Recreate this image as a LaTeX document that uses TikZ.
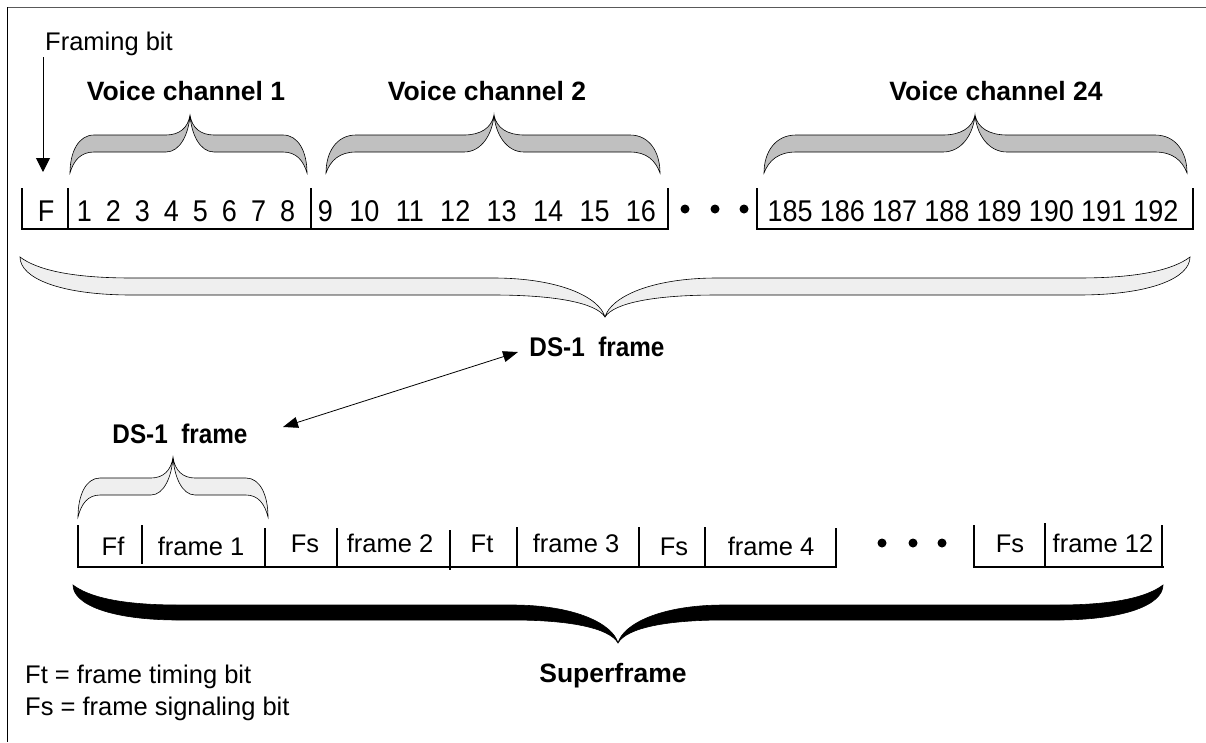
\documentclass[tikz,border=0pt]{standalone}
\usepackage{fontspec}
\setmainfont{Liberation Sans}
\newfontfamily\narrowfont[FakeStretch=0.9]{Liberation Sans}
\usetikzlibrary{arrows.meta}
% #1 style, #2 xl, #3 xr, #4 xm, #5 tip y, #6 band edge on tip side, #7 band edge on end side, #8 end y, #9 curve length
\newcommand\mybrace[9]{%
\path[#1] (#2,#8)
 .. controls (#2,{#6+0.45*(#8-#6)}) and ({#2+0.35*#9},#6) .. ({#2+#9},#6)
 -- ({#4-#9},#6)
 .. controls ({#4-0.45*#9},#6) and ({#4-0.08*#9},{#6+0.35*(#5-#6)}) .. (#4,#5)
 .. controls ({#4+0.08*#9},{#6+0.35*(#5-#6)}) and ({#4+0.45*#9},#6) .. ({#4+#9},#6)
 -- ({#3-#9},#6)
 .. controls ({#3-0.35*#9},#6) and (#3,{#6+0.45*(#8-#6)}) .. (#3,#8)
 .. controls ({#3-0.15*#9},{#7+0.4*(#8-#7)}) and ({#3-0.45*#9},#7) .. ({#3-#9},#7)
 -- ({#4+#9},#7)
 .. controls ({#4+0.4*#9},#7) and ({#4+0.05*#9},{#7+0.5*(#5-#7)}) .. (#4,#5)
 .. controls ({#4-0.05*#9},{#7+0.5*(#5-#7)}) and ({#4-0.4*#9},#7) .. ({#4-#9},#7)
 -- ({#2+#9},#7)
 .. controls ({#2+0.45*#9},#7) and ({#2+0.15*#9},{#7+0.4*(#8-#7)}) .. (#2,#8) -- cycle;}
\definecolor{vgray}{HTML}{C0C0C0}
\definecolor{lgray}{HTML}{EFEFEF}
\tikzset{
  txt/.style={font=\fontsize{25.5}{30}\selectfont, inner sep=0pt, anchor=base},
  btxt/.style={font=\fontsize{26.5}{30}\selectfont\bfseries, inner sep=0pt, anchor=base},
  dstxt/.style={font=\narrowfont\fontsize{27}{30}\selectfont\bfseries, inner sep=0pt, anchor=base},
  num/.style={inner sep=0pt, anchor=base},
  frm/.style={line width=1.4pt},
  dot/.style={circle, fill=black, inner sep=0pt, minimum size=9pt},
  vbrace/.style={fill=vgray, draw=black, line width=0.6pt},
  lbrace/.style={fill=lgray, draw=black, line width=0.6pt},
  kbrace/.style={fill=black, draw=black, line width=0.6pt}
}
\begin{document}
\begin{tikzpicture}[x=1pt,y=-1pt]
\useasboundingbox (0,0) rectangle (1206,742);
\fill[white] (0,0) rectangle (1206,742);
% border
\draw[gray!70!black, line width=1.2pt] (7,7.5) -- (1206,7.5);
\draw[black, line width=1.4pt] (7.5,7) -- (7.5,742);

% Framing bit
\node[txt] (fb) at (109,50) {Framing bit};
\coordinate (fbs) at (43,57);
\coordinate (fbt) at (43,172);
\draw[line width=1pt, -{Triangle[length=14pt,width=14pt]}] (fbs) -- (fbt);

% voice channel labels
\node[btxt] (vc1) at (186,100) {Voice channel 1};
\node[btxt] (vc2) at (487,100) {Voice channel 2};
\node[btxt] (vc24) at (996,100) {Voice channel 24};

% voice braces
\mybrace{vbrace}{70}{307}{190}{115}{135}{152}{173}{24}
\mybrace{vbrace}{326}{660}{494}{115}{135}{152}{173}{30}
\mybrace{vbrace}{764}{1187}{975}{115}{135}{152}{173}{32}

% row 1 frame
\draw[frm] (22,188) -- (22,229) -- (668,229) -- (668,188);
\draw[frm] (68,188) -- (68,229);
\draw[frm] (311,188) -- (311,229);
\draw[frm] (757,188) -- (757,229) -- (1193,229) -- (1193,188);
\node[dot] (r1d1) at (685,209) {};
\node[dot] (r1d2) at (715,209) {};
\node[dot] (r1d3) at (744,209) {};
\node[num, font=\narrowfont\fontsize{30}{34}\selectfont] (nF) at (46,221) {F};
\node[num, font={\narrowfont\fontsize{30}{34}\selectfont\spaceskip=14pt\relax}] (n1) at (186,221) {1 2 3 4 5 6 7 8};
\node[num, font={\narrowfont\fontsize{30}{34}\selectfont\spaceskip=16.4pt\relax}] (n2) at (487,221) {9 10 11 12 13 14 15 16};
\node[num, font={\narrowfont\fontsize{30}{34}\selectfont\spaceskip=7.2pt\relax}] (n3) at (973,221) {185 186 187 188 189 190 191 192};

% big DS-1 brace
\mybrace{lbrace}{20}{1190}{605}{317}{295}{278}{257}{112}
\node[dstxt] (ds1a) at (597,356) {DS-1\ \ frame};
\node[dstxt] (ds1b) at (180,443) {DS-1\ \ frame};
\coordinate (arA) at (518,352);
\coordinate (arB) at (283,427);
\draw[line width=0.8pt, {Triangle[length=15pt,width=11pt]}-{Triangle[length=15pt,width=11pt]}] (arB) -- (arA);

% small DS-1 brace
\mybrace{lbrace}{78}{268}{173}{457}{478}{495}{517}{22}

% row 2 frames
\draw[frm] (78,525) -- (78,567) -- (836,567) -- (836,528);
\draw[frm] (142,525) -- (142,564);
\draw[frm] (265,528) -- (265,567);
\draw[frm] (337,528) -- (337,567);
\draw[frm] (450,530) -- (450,570);
\draw[frm] (517,527) -- (517,567);
\draw[frm] (639,527) -- (639,567);
\draw[frm] (705,527) -- (705,567);
\draw[frm] (974,525) -- (974,567) -- (1164,567);
\draw[frm] (1045,523) -- (1045,567);
\draw[frm] (1162,525) -- (1162,567);
\node[dot] (r2d1) at (882,543) {};
\node[dot] (r2d2) at (913,543) {};
\node[dot] (r2d3) at (942,543) {};
\node[txt] (Ff) at (113,555) {Ff};
\node[txt] (f1) at (201,555) {frame 1};
\node[txt] (Fs1) at (305,552) {Fs};
\node[txt] (f2) at (390,552) {frame 2};
\node[txt] (Ft) at (482,552) {Ft};
\node[txt] (f3) at (576,552) {frame 3};
\node[txt] (Fs2) at (674,555) {Fs};
\node[txt] (f4) at (771,555) {frame 4};
\node[txt] (Fs3) at (1010,552) {Fs};
\node[txt] (f12) at (1103,552) {frame 12};

% superframe brace
\mybrace{kbrace}{73}{1163}{618}{643}{620}{605}{585}{106}
\node[btxt] (sf) at (613,682) {Superframe};

% legend
\node[txt, anchor=base west] (lg1) at (25,683) {Ft = frame timing bit};
\node[txt, anchor=base west] (lg2) at (25,715) {Fs = frame signaling bit};
\end{tikzpicture}
\end{document}
